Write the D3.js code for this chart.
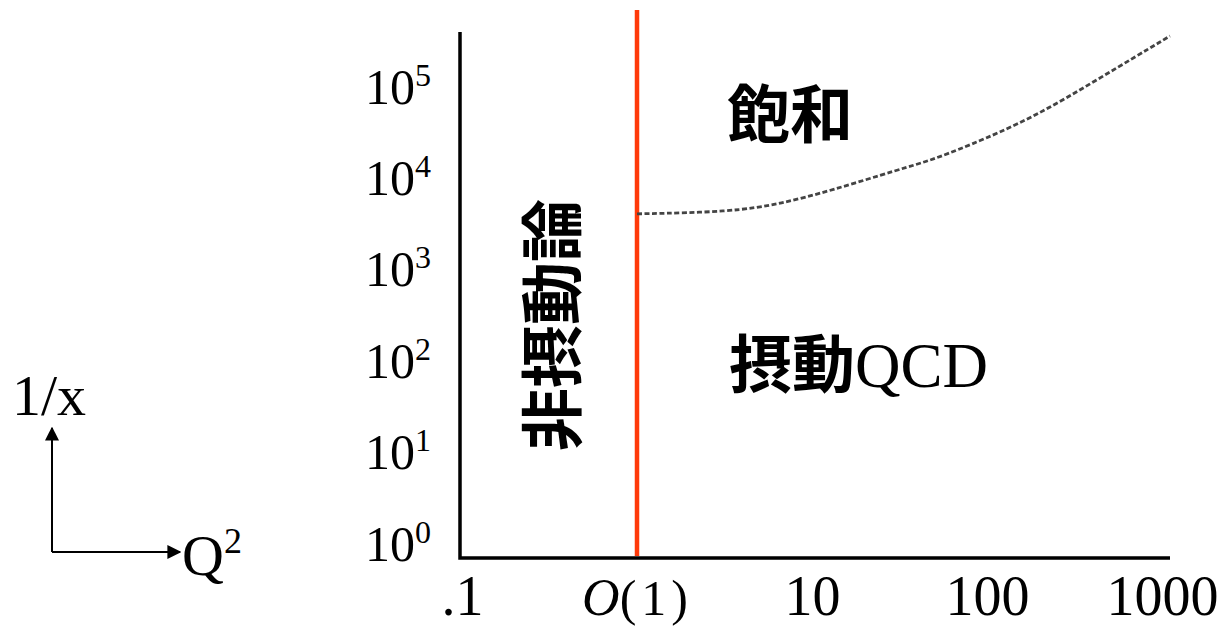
<!DOCTYPE html>
<html>
<head>
<meta charset="utf-8">
<script src="https://cdn.jsdelivr.net/npm/d3@7"></script>
<style>
  body { margin: 0; background: #fff; }
  svg { display: block; }
</style>
</head>
<body>
<div id="chart"></div>
<script>
// tick values and labels
var q2Ticks = [0.1, 1, 10, 100, 1000];
var q2Labels = [".1", "O(1)", "10", "100", "1000"];
var invxTicks = [1, 10, 100, 1000, 10000, 100000];
var invxExps = ["0", "1", "2", "3", "4", "5"];

// boundary between perturbative region and saturation
var boundaryQ2 = [1, 3.4, 6.6, 12.7, 32, 47, 77, 183, 443, 1110];
var boundaryInvx = [4200, 4400, 5400, 7500, 13000, 16000, 23000, 47000, 129000, 370000];

// the O(1) line
var criticalQ2 = 1;

var width = 1228, height = 628;
var serif = "'Liberation Serif', 'Times New Roman', serif";
var cjk = "'Noto Sans CJK JP', 'Noto Sans CJK SC', sans-serif";

var svg = d3.select("#chart")
    .append("svg")
    .attr("width", width)
    .attr("height", height);

// scales
var x = d3.scaleLog()
    .domain([0.1, 1000])
    .range([462, 1162]);

var y = d3.scaleLog()
    .domain([1, 100000])
    .range([545, 88]);

var axisLeftX = 460, axisBottomY = 558;

// X axis
var gx = svg.append("g")
    .attr("transform", "translate(0," + axisBottomY + ")")
    .call(d3.axisBottom(x).tickValues(q2Ticks).tickSize(0).tickFormat(""));
gx.select(".domain").remove();
gx.selectAll(".tick text").remove();
gx.selectAll(".tick").each(function (d, i) {
    var t = d3.select(this).append("text")
        .attr("y", 57)
        .attr("text-anchor", "middle")
        .attr("fill", "#000")
        .style("font-family", serif)
        .style("font-size", "56px");
    if (q2Labels[i] === "O(1)") {
        t.append("tspan").attr("font-style", "italic").style("font-size", "52px").text("O");
        t.append("tspan").style("font-size", "50px").style("letter-spacing", "5px").text("(1)");
    } else {
        t.text(q2Labels[i]);
    }
});

// Y axis
var gy = svg.append("g")
    .attr("transform", "translate(" + axisLeftX + ",0)")
    .call(d3.axisLeft(y).tickValues(invxTicks).tickSize(0).tickFormat(""));
gy.select(".domain").remove();
gy.selectAll(".tick text").remove();
gy.selectAll(".tick").each(function (d, i) {
    var t = d3.select(this).append("text")
        .attr("x", -95)
        .attr("y", 15)
        .attr("text-anchor", "start")
        .attr("fill", "#000")
        .style("font-family", serif)
        .style("font-size", "50px");
    t.append("tspan").text("10");
    t.append("tspan").attr("dy", -18).style("font-size", "32px").text(invxExps[i]);
});

// axis lines
svg.append("path")
    .attr("d", d3.line()([[axisLeftX, 32], [axisLeftX, axisBottomY], [1170, axisBottomY]]))
    .attr("fill", "none")
    .attr("stroke", "#000")
    .attr("stroke-width", 3.5);

// O(1) line
svg.append("line")
    .attr("x1", x(criticalQ2)).attr("x2", x(criticalQ2))
    .attr("y1", 10).attr("y2", axisBottomY - 2)
    .attr("stroke", "#ff3a0a")
    .attr("stroke-width", 4.5);

// saturation boundary
var pts = boundaryQ2.map(function (q, i) { return [q, boundaryInvx[i]]; });
svg.append("path")
    .datum(pts)
    .attr("fill", "none")
    .attr("stroke", "#444")
    .attr("stroke-width", 2.8)
    .attr("stroke-dasharray", "5,2.5")
    .attr("d", d3.line()
        .x(function (d) { return x(d[0]); })
        .y(function (d) { return y(d[1]); })
        .curve(d3.curveBasis));

// region labels
svg.append("text")
    .attr("x", 727).attr("y", 109)
    .attr("dominant-baseline", "central")
    .style("font-family", cjk).style("font-weight", "bold").style("font-size", "63px")
    .text("飽和");

var pq = svg.append("text")
    .attr("x", 729).attr("y", 387)
    .style("font-size", "63px");
pq.append("tspan").style("font-family", cjk).style("font-weight", "bold").text("摂動");
pq.append("tspan").style("font-family", serif).text("QCD");

svg.append("text")
    .attr("transform", "translate(547,325) rotate(-90)")
    .attr("text-anchor", "middle")
    .attr("dominant-baseline", "central")
    .style("font-family", cjk).style("font-weight", "bold").style("font-size", "63px")
    .text("非摂動論");

// small axes key
svg.append("defs").append("marker")
    .attr("id", "arr")
    .attr("viewBox", "0 0 10 10")
    .attr("refX", 9).attr("refY", 5)
    .attr("markerWidth", 7).attr("markerHeight", 7)
    .attr("markerUnits", "strokeWidth")
    .attr("orient", "auto")
    .append("path")
    .attr("d", "M0,0L10,5L0,10Z")
    .attr("fill", "#000");

svg.append("path")
    .attr("d", d3.line()([[52, 552], [52, 428]]))
    .attr("stroke", "#000").attr("stroke-width", 2)
    .attr("marker-end", "url(#arr)");
svg.append("path")
    .attr("d", d3.line()([[52, 552], [180, 552]]))
    .attr("stroke", "#000").attr("stroke-width", 2)
    .attr("marker-end", "url(#arr)");

svg.append("text")
    .attr("x", 12).attr("y", 415)
    .style("font-family", serif).style("font-size", "58px")
    .text("1/x");

var qk = svg.append("text")
    .attr("x", 182).attr("y", 575)
    .style("font-family", serif).style("font-size", "58px");
qk.append("tspan").text("Q");
qk.append("tspan").attr("dy", -22).style("font-size", "36px").text("2");
</script>
</body>
</html>
